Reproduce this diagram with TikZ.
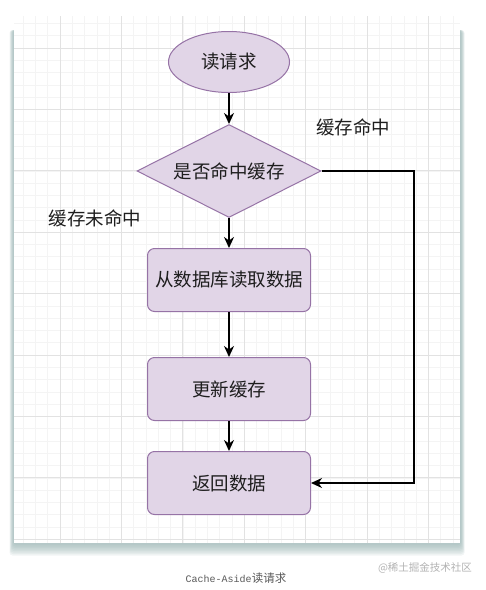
\documentclass[tikz,border=0pt]{standalone}
\usepackage{fontspec}
\setmainfont{Noto Sans CJK SC}
\newfontfamily\capmono{Liberation Mono}
\usetikzlibrary{positioning,arrows.meta,shapes.geometric}
\definecolor{nodefill}{HTML}{E1D5E7}
\definecolor{nodeline}{HTML}{9673A6}
\definecolor{gridmajor}{HTML}{E2E2E2}
\definecolor{gridminor}{HTML}{F4F4F4}
\definecolor{shadowcol}{HTML}{8CAAA9}
\definecolor{txtcol}{HTML}{1E1E1E}

\begin{document}
\begin{tikzpicture}[x=1pt,y=1pt,
proc/.style={draw=nodeline,line width=1pt,fill=nodefill,rounded corners=7pt,minimum width=163pt,minimum height=63pt,font=\fontsize{18.5}{20}\selectfont,text=txtcol},
startnode/.style={ellipse,draw=nodeline,line width=1pt,fill=nodefill,minimum width=121pt,minimum height=61pt,font=\fontsize{18.5}{20}\selectfont,text=txtcol},
decide/.style={diamond,draw=nodeline,line width=1pt,fill=nodefill,aspect=1.98,inner sep=0pt,minimum width=184pt,minimum height=93pt,font=\fontsize{18.5}{20}\selectfont,text=txtcol},
lbl/.style={font=\fontsize{18.5}{20}\selectfont,text=txtcol},
arr/.style={-{Stealth[length=11pt,width=10pt,inset=3.5pt]},line width=1.6pt,black}]
\useasboundingbox (0,0) rectangle (486,-590);
% card with shadow and grid
\foreach \s in {0,...,7}
  \fill[shadowcol,opacity=0.12,rounded corners=3pt] (13-\s*0.5,-30) rectangle (461+\s*0.5,-545-\s*1.5);
\fill[white] (14,-16) rectangle (460,-543);
\begin{scope}
\clip (14,-16) rectangle (460,-543);
\foreach \i in {-5,...,40} {
  \draw[gridminor,line width=0.6pt] (60+12.28*\i,-16) -- (60+12.28*\i,-543);
  \draw[gridminor,line width=0.6pt] (14,-48-12.28*\i) -- (460,-48-12.28*\i);
}
\foreach \i in {-1,...,8} {
  \draw[gridmajor,line width=0.8pt] (60+61.4*\i,-16) -- (60+61.4*\i,-543);
  \draw[gridmajor,line width=0.8pt] (14,-48-61.4*\i) -- (460,-48-61.4*\i);
}
\end{scope}
% flow
\node[startnode] (req) at (229,-62) {读请求};
\node[decide,below=31pt of req] (q) {是否命中缓存};
\node[proc,below=30pt of q] (db) {从数据库读取数据};
\node[proc,below=45pt of db] (upd) {更新缓存};
\node[proc,below=30pt of upd] (ret) {返回数据};
\node[lbl] (hitlbl) at (353,-127) {缓存命中};
\node[lbl] (misslbl) at (95,-218) {缓存未命中};
\draw[arr] (req) -- (q); \draw[arr] (q) -- (db); \draw[arr] (db) -- (upd); \draw[arr] (upd) -- (ret);
\draw[arr] (q.east) -| ([xshift=103pt]ret.east) -- (ret.east);
% caption
\node[text=black!65] (cap) at (236,-578) {{\capmono\fontsize{10}{12}\selectfont Cache-Aside}{\fontsize{11.5}{12}\selectfont 读请求}};
\node[text=black!30,font=\fontsize{10.5}{12}\selectfont] (mark) at (425,-568) {@稀土掘金技术社区};
\end{tikzpicture}
\end{document}
